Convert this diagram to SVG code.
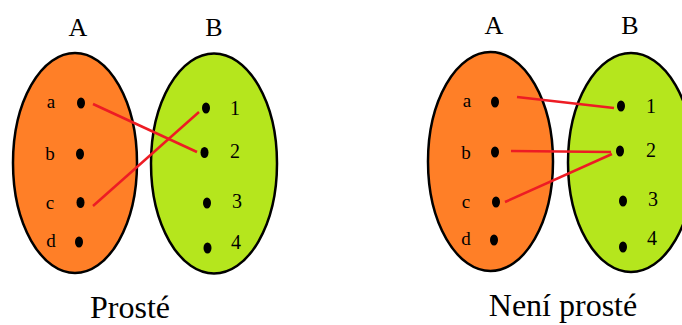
<svg xmlns="http://www.w3.org/2000/svg" width="682" height="325" viewBox="0 0 682 325">
<style>
.setA{fill:#FF7F27;stroke:#000;stroke-width:2.5}
.setB{fill:#B5E61D;stroke:#000;stroke-width:2.5}
.dot{fill:#000}
.t{font-family:"Liberation Serif","Times New Roman",serif;fill:#000}
.lbl{font-size:19px;text-anchor:middle}
.num{font-size:20px}
.head{font-size:26px;text-anchor:middle}
.cap{font-size:32px;text-anchor:middle}
.edge{stroke:#ED1C24;stroke-width:2.5;fill:none}
</style>
<rect width="682" height="325" fill="#fff"/>

<!-- Left diagram: Prosté -->
<g id="L-setA">
<ellipse class="setA" cx="75" cy="163" rx="62" ry="110"/>
<text class="t head" x="78" y="36">A</text>
</g>
<g id="L-setB">
<ellipse class="setB" cx="214" cy="163.5" rx="63" ry="110"/>
<text class="t head" x="214" y="36">B</text>
</g>
<g id="L-a"><ellipse class="dot" cx="81" cy="103" rx="4" ry="5.5"/><text class="t lbl" x="51" y="108">a</text></g>
<g id="L-b"><ellipse class="dot" cx="80" cy="154" rx="4" ry="5.5"/><text class="t lbl" x="50" y="160">b</text></g>
<g id="L-c"><ellipse class="dot" cx="80.5" cy="202.5" rx="4" ry="5.5"/><text class="t lbl" x="50" y="209">c</text></g>
<g id="L-d"><ellipse class="dot" cx="79" cy="242" rx="4" ry="5.5"/><text class="t lbl" x="51" y="247">d</text></g>
<g id="L-1"><ellipse class="dot" cx="206" cy="108" rx="4" ry="5.5"/><text class="t num" x="230" y="115">1</text></g>
<g id="L-2"><ellipse class="dot" cx="204.5" cy="152.5" rx="4" ry="5.5"/><text class="t num" x="230" y="158">2</text></g>
<g id="L-3"><ellipse class="dot" cx="207" cy="203" rx="4" ry="5.5"/><text class="t num" x="232" y="208">3</text></g>
<g id="L-4"><ellipse class="dot" cx="207.5" cy="248" rx="4" ry="5.5"/><text class="t num" x="231" y="249">4</text></g>
<g id="L-caption"><text class="t cap" x="130" y="318">Prosté</text></g>

<!-- Right diagram: Není prosté -->
<g id="R-setA">
<ellipse class="setA" cx="490.5" cy="161.5" rx="62.5" ry="109.5"/>
<text class="t head" x="494" y="34">A</text>
</g>
<g id="R-setB">
<ellipse class="setB" cx="631" cy="162.5" rx="63" ry="109.5"/>
<text class="t head" x="630" y="34">B</text>
</g>
<g id="R-a"><ellipse class="dot" cx="495" cy="102" rx="4" ry="5.5"/><text class="t lbl" x="467" y="107">a</text></g>
<g id="R-b"><ellipse class="dot" cx="495" cy="152" rx="4" ry="5.5"/><text class="t lbl" x="466" y="159">b</text></g>
<g id="R-c"><ellipse class="dot" cx="496" cy="202" rx="4" ry="5.5"/><text class="t lbl" x="466" y="208">c</text></g>
<g id="R-d"><ellipse class="dot" cx="494" cy="240" rx="4" ry="5.5"/><text class="t lbl" x="466" y="245">d</text></g>
<g id="R-1"><ellipse class="dot" cx="621" cy="106" rx="4" ry="5.5"/><text class="t num" x="646" y="113">1</text></g>
<g id="R-2"><ellipse class="dot" cx="620" cy="151" rx="4" ry="5.5"/><text class="t num" x="646" y="157">2</text></g>
<g id="R-3"><ellipse class="dot" cx="623" cy="201" rx="4" ry="5.5"/><text class="t num" x="648" y="206">3</text></g>
<g id="R-4"><ellipse class="dot" cx="623" cy="247" rx="4" ry="5.5"/><text class="t num" x="647" y="245">4</text></g>
<g id="R-caption"><text class="t cap" x="563" y="316">Není prosté</text></g>

<g id="connectors">
<line class="edge" x1="93" y1="104" x2="197" y2="152"/>
<line class="edge" x1="93" y1="206" x2="199" y2="112"/>
<line class="edge" x1="517" y1="97" x2="614" y2="108"/>
<line class="edge" x1="511" y1="151" x2="611" y2="152"/>
<line class="edge" x1="505" y1="202" x2="612" y2="154"/>
</g>
</svg>
